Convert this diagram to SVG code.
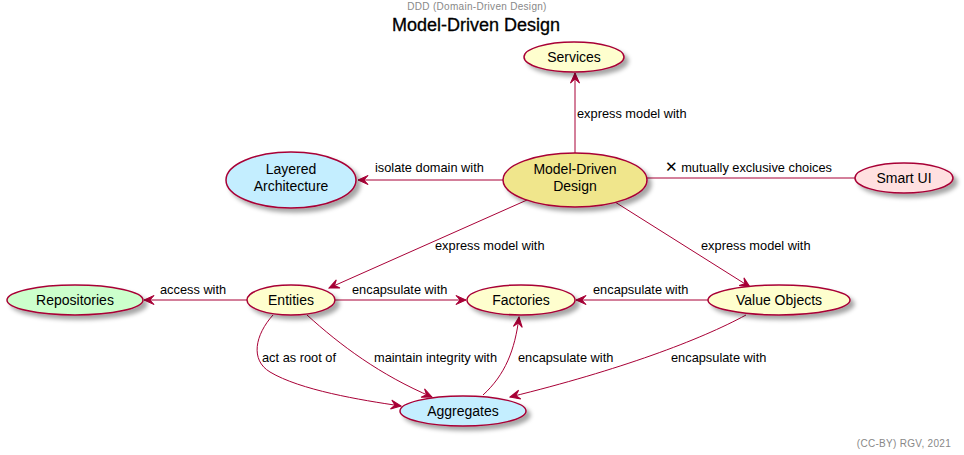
<svg xmlns="http://www.w3.org/2000/svg" width="964" height="455" viewBox="0 0 964 455">
<defs>
<filter id="sh" x="-20%" y="-20%" width="150%" height="160%">
<feGaussianBlur in="SourceAlpha" stdDeviation="2"/>
<feOffset dx="4" dy="4" result="b"/>
<feColorMatrix in="b" type="matrix" values="0 0 0 0 0  0 0 0 0 0  0 0 0 0 0  0 0 0 0.35 0" result="c"/>
<feMerge><feMergeNode in="c"/><feMergeNode in="SourceGraphic"/></feMerge>
</filter>
<marker id="ar" markerUnits="userSpaceOnUse" viewBox="-11 -6 12 12" refX="0" refY="0" markerWidth="12" markerHeight="12" orient="auto">
<path d="M0,0 L-10,-4.5 L-6,0 L-10,4.5 Z" fill="#A80036" stroke="#A80036" stroke-width="1"/>
</marker>
</defs>
<style>
.n ellipse{stroke:#A80036;stroke-width:1.5;filter:url(#sh)}
.n text{font-family:"Liberation Sans",Arial,sans-serif;font-size:14px;fill:#000;text-anchor:middle}
.e path{fill:none;stroke:#A80036;stroke-width:1}
.l{font-family:"Liberation Sans",Arial,sans-serif;font-size:12.8px;fill:#000}
.y{fill:#FEFECE}.k{fill:#F0E68C}.b{fill:#C4EEFF}.p{fill:#FFE0E0}.g{fill:#CCFFCC}
</style>
<rect width="964" height="455" fill="#fff"/>
<text x="477" y="10" text-anchor="middle" font-family="Liberation Sans,Arial,sans-serif" font-size="10" fill="#888" letter-spacing="0.3">DDD (Domain-Driven Design)</text>
<text x="476" y="31" text-anchor="middle" font-family="Liberation Sans,Arial,sans-serif" font-size="18" fill="#000" stroke="#000" stroke-width="0.3">Model-Driven Design</text>
<g id="edges" class="e">
<path d="M575,153 L575,73" marker-end="url(#ar)"/>
<path d="M503,180 L358,180" marker-end="url(#ar)"/>
<path d="M647,178 L855,178"/>
<path d="M527,200 L329,288" marker-end="url(#ar)"/>
<path d="M615,202 L750,287" marker-end="url(#ar)"/>
<path d="M247,300 L144,300" marker-end="url(#ar)"/>
<path d="M335,300 L466,300" marker-end="url(#ar)"/>
<path d="M708,300 L576,300" marker-end="url(#ar)"/>
<path d="M273,315 C255,335 250,360 270,372 C300,390 360,400 401,406" marker-end="url(#ar)"/>
<path d="M307,315 C340,345 380,375 432,397" marker-end="url(#ar)"/>
<path d="M483,395 C505,375 515,350 519,317" marker-end="url(#ar)"/>
<path d="M746,315 C700,340 620,370 510,397" marker-end="url(#ar)"/>
</g>
<g id="labels">
<text class="l" x="577" y="118">express model with</text>
<text class="l" x="375" y="172">isolate domain with</text>
<text class="l" x="665" y="172"><tspan font-family="DejaVu Sans,sans-serif" font-size="15" font-weight="bold">✕</tspan> mutually exclusive choices</text>
<text class="l" x="435" y="250">express model with</text>
<text class="l" x="701" y="250">express model with</text>
<text class="l" x="160" y="294">access with</text>
<text class="l" x="352" y="294">encapsulate with</text>
<text class="l" x="593" y="294">encapsulate with</text>
<text class="l" x="262" y="362">act as root of</text>
<text class="l" x="374" y="362">maintain integrity with</text>
<text class="l" x="518" y="362">encapsulate with</text>
<text class="l" x="671" y="362">encapsulate with</text>
</g>
<g id="services" class="n"><ellipse class="y" cx="574" cy="57" rx="50" ry="15"/><text x="574" y="62">Services</text></g>
<g id="mdd" class="n"><ellipse class="k" cx="575" cy="180" rx="72" ry="27"/><text x="575" y="174">Model-Driven</text><text x="575" y="191">Design</text></g>
<g id="layered" class="n"><ellipse class="b" cx="291" cy="180" rx="65" ry="28"/><text x="291" y="174">Layered</text><text x="291" y="191">Architecture</text></g>
<g id="smartui" class="n"><ellipse class="p" cx="904" cy="178" rx="49" ry="15"/><text x="904" y="183">Smart UI</text></g>
<g id="repositories" class="n"><ellipse class="g" cx="75" cy="300" rx="68" ry="15"/><text x="75" y="305">Repositories</text></g>
<g id="entities" class="n"><ellipse class="y" cx="291" cy="300" rx="44" ry="15"/><text x="291" y="305">Entities</text></g>
<g id="factories" class="n"><ellipse class="y" cx="521" cy="300" rx="54" ry="15"/><text x="521" y="305">Factories</text></g>
<g id="valueobjects" class="n"><ellipse class="y" cx="779" cy="300" rx="71" ry="15"/><text x="779" y="305">Value Objects</text></g>
<g id="aggregates" class="n"><ellipse class="b" cx="463" cy="411" rx="63" ry="15"/><text x="463" y="416">Aggregates</text></g>
<text x="951" y="447" text-anchor="end" font-family="Liberation Sans,Arial,sans-serif" font-size="10" fill="#888" letter-spacing="0.3">(CC-BY) RGV, 2021</text>
</svg>
